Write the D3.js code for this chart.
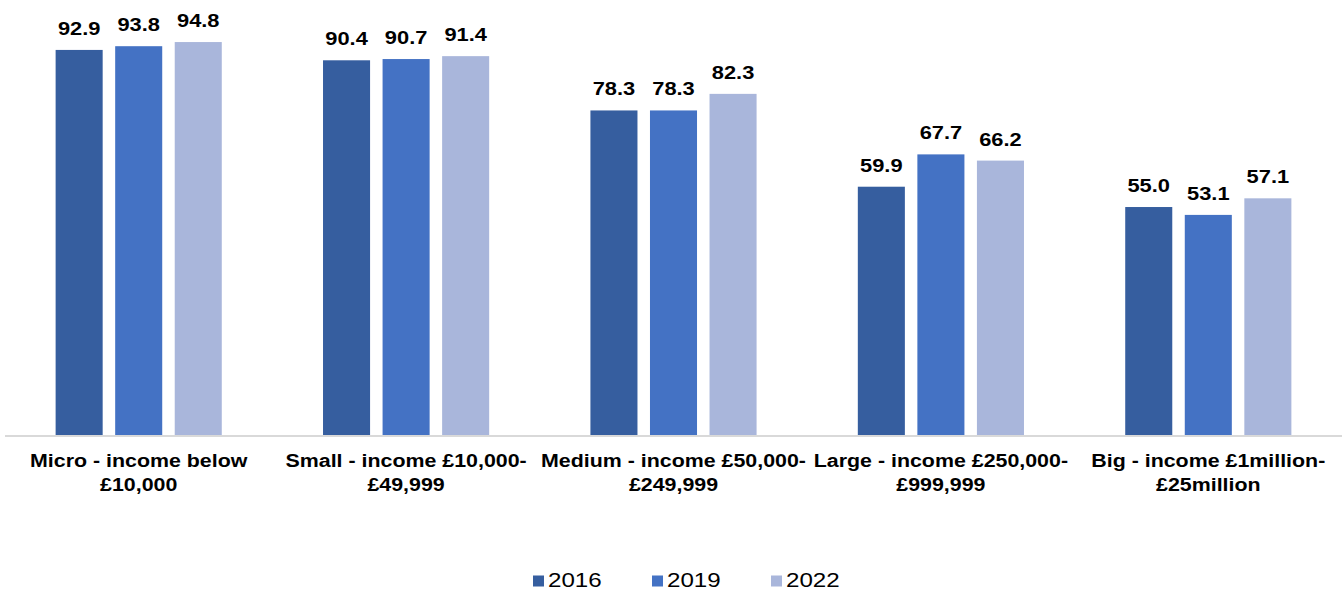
<!DOCTYPE html>
<html>
<head>
<meta charset="utf-8">
<script src="https://cdn.jsdelivr.net/npm/d3@7"></script>
<style>
  body { margin: 0; background: #fff; }
  svg { display: block; font-family: "Liberation Sans", Arial, sans-serif; }
</style>
</head>
<body>
<div id="chart"></div>
<script>
// chart values
const categories = [
    ["Micro - income below", "£10,000"],
    ["Small - income £10,000-", "£49,999"],
    ["Medium - income £50,000-", "£249,999"],
    ["Large - income £250,000-", "£999,999"],
    ["Big - income £1million-", "£25million"]
];
const years = ["2016", "2019", "2022"];
const values2016 = [92.9, 90.4, 78.3, 59.9, 55.0];
const values2019 = [93.8, 90.7, 78.3, 67.7, 53.1];
const values2022 = [94.8, 91.4, 82.3, 66.2, 57.1];
const colors = ["#365E9F", "#4472C4", "#A9B6DB"];

const series = [values2016, values2019, values2022];

// the picture is drawn in a narrower box and stretched sideways
const stretch = 1.15;
const width = 1344 / stretch,
    height = 592;

const svg = d3.select("#chart").append("svg")
    .attr("width", 1344)
    .attr("height", height)
    .attr("viewBox", "0 0 " + width + " " + height)
    .attr("preserveAspectRatio", "none");

const x0 = d3.scaleBand()
    .domain(d3.range(categories.length))
    .range([5 / stretch, 1342 / stretch]);

const x1 = d3.scaleBand()
    .domain(years)
    .range([0, x0.bandwidth()])
    .paddingInner(0.21)
    .paddingOuter(0.85);

const y = d3.scaleLinear()
    .domain([0, 100])
    .range([435, 20.5]);

const groups = svg.selectAll("g.group")
    .data(categories)
    .join("g")
        .attr("class", "group")
        .attr("transform", (d, i) => "translate(" + x0(i) + ",0)");

groups.selectAll("rect")
    .data((d, i) => years.map((yr, k) => ({ year: yr, value: series[k][i], k: k })))
    .join("rect")
        .attr("x", d => x1(d.year))
        .attr("y", d => y(d.value))
        .attr("width", x1.bandwidth())
        .attr("height", d => y(0) - y(d.value))
        .attr("fill", d => colors[d.k]);

groups.selectAll("text.value")
    .data((d, i) => years.map((yr, k) => ({ year: yr, value: series[k][i] })))
    .join("text")
        .attr("class", "value")
        .attr("x", d => x1(d.year) + x1.bandwidth() / 2)
        .attr("y", d => y(d.value) - 15)
        .attr("text-anchor", "middle")
        .attr("font-size", 19)
        .attr("font-weight", "bold")
        .attr("fill", "#000")
        .text(d => d.value.toFixed(1));

// baseline
svg.append("line")
    .attr("x1", 5 / stretch)
    .attr("x2", 1342 / stretch)
    .attr("y1", y(0) + 1)
    .attr("y2", y(0) + 1)
    .attr("stroke", "#D9D9D9")
    .attr("stroke-width", 2);

// category labels
groups.append("text")
    .attr("text-anchor", "middle")
    .attr("font-size", 18.6)
    .attr("font-weight", "bold")
    .attr("fill", "#000")
    .selectAll("tspan")
    .data(d => d)
    .join("tspan")
        .attr("x", x0.bandwidth() / 2)
        .attr("y", (d, i) => 467.5 + i * 23.5)
        .text(d => d);

// legend
const legendX = [533, 652, 771];
const legend = svg.selectAll("g.legend")
    .data(years)
    .join("g")
        .attr("class", "legend")
        .attr("transform", (d, i) => "translate(" + legendX[i] / stretch + ",0)");

legend.append("rect")
    .attr("x", 0)
    .attr("y", 575.5)
    .attr("width", 11 / stretch)
    .attr("height", 11)
    .attr("fill", (d, i) => colors[i]);

legend.append("text")
    .attr("x", 15 / stretch)
    .attr("y", 587)
    .attr("font-size", 21)
    .attr("fill", "#000")
    .text(d => d);
</script>
</body>
</html>
